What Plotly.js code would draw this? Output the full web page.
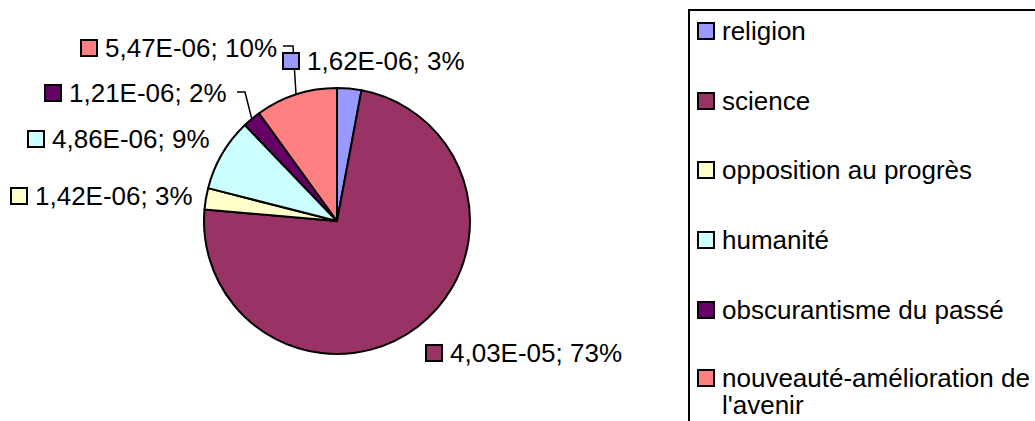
<!DOCTYPE html>
<html>
<head>
<meta charset="utf-8">
<script src="https://cdn.plot.ly/plotly-3.0.1.min.js"></script>
<style>html,body{margin:0;padding:0;background:#fff;}#chart{width:1035px;height:421px;}</style>
</head>
<body>
<div id="chart"></div>
<script>
// ---- data ----
const labels = ["religion", "science", "opposition au progrès", "humanité", "obscurantisme du passé", "nouveauté-amélioration de l'avenir"];
const values = [1.62e-6, 4.03e-5, 1.42e-6, 4.86e-6, 1.21e-6, 5.47e-6];
const colors = ["#9999FF", "#993366", "#FFFFCC", "#CCFFFF", "#660066", "#FF8080"];

// ---- layout helpers (pixel positions) ----
const W = 1035, H = 421;
const px = x => x / W;
const py = y => 1 - y / H;
const FONT = "Liberation Sans, Arial, sans-serif";
const FS = 26;

// pie geometry
const CX = 337, CY = 221, R = 133;

// data label anchors: [square left x, center y]
const labelPos = [[283, 61], [426, 353], [11, 196], [28, 139], [45, 93], [81, 48]];
// leader line start points (label side) for the small slices that use them
const leaders = {
  4: [[237, 92], [245, 92]],
  5: [[283, 46], [293, 46]]
};

const total = values.reduce((a, b) => a + b, 0);
function fmtVal(v) {
  const s = v.toExponential(2); // e.g. 1.62e-6
  const [m, e] = s.split("e");
  const ev = parseInt(e, 10);
  const sign = ev < 0 ? "-" : "+";
  const ea = String(Math.abs(ev)).padStart(2, "0");
  return m.replace(".", ",") + "E" + sign + ea;
}
function pct(v) { return Math.round(v / total * 100) + "%"; }

const shapes = [];
const annotations = [];

// leader lines to slice mid-points on the edge
let cum = 0;
const mids = values.map(v => { const m = cum + v / 2; cum += v; return m / total; });
Object.keys(leaders).forEach(k => {
  const i = +k;
  const a = mids[i] * 2 * Math.PI;
  const ex = CX + Math.sin(a) * R, ey = CY - Math.cos(a) * R;
  const pts = leaders[k].concat([[ex, ey]]);
  const path = pts.map((p, j) => (j ? "L" : "M") + px(p[0]) + "," + py(p[1])).join(" ");
  shapes.push({type: "path", xref: "paper", yref: "paper", path: path,
    line: {color: "#000", width: 1.5}, layer: "above"});
});

// data labels
labels.forEach((l, i) => {
  const [sx, cy] = labelPos[i];
  shapes.push({type: "rect", xref: "paper", yref: "paper",
    x0: px(sx), x1: px(sx + 16), y0: py(cy - 8), y1: py(cy + 8),
    fillcolor: colors[i], line: {color: "#000", width: 2}, layer: "above"});
  annotations.push({xref: "paper", yref: "paper", x: px(sx + 23), y: py(cy),
    xanchor: "left", yanchor: "middle", showarrow: false, borderpad: 0,
    text: fmtVal(values[i]) + "; " + pct(values[i]),
    font: {family: FONT, size: FS, color: "#000"}});
});

// legend box
shapes.push({type: "rect", xref: "paper", yref: "paper",
  x0: px(689), x1: px(1045), y0: py(10), y1: py(440),
  fillcolor: "rgba(0,0,0,0)", line: {color: "#000", width: 2}, layer: "above"});
const legendY = [31, 101, 170, 240, 310, 378];
const legendLines = l => l.replace(" l'avenir", "\n l'avenir").split("\n").map(s => s.trim());
labels.forEach((l, i) => {
  const cy = legendY[i];
  shapes.push({type: "rect", xref: "paper", yref: "paper",
    x0: px(698), x1: px(714), y0: py(cy - 8), y1: py(cy + 8),
    fillcolor: colors[i], line: {color: "#000", width: 2}, layer: "above"});
  legendLines(l).forEach((t, j) => {
    annotations.push({xref: "paper", yref: "paper", x: px(721), y: py(cy + j * 27),
      xanchor: "left", yanchor: "middle", showarrow: false, borderpad: 0,
      text: t, font: {family: FONT, size: FS, color: "#000"}});
  });
});

const trace = {
  type: "pie",
  labels: labels,
  values: values,
  sort: false,
  direction: "clockwise",
  rotation: 0,
  textinfo: "none",
  hoverinfo: "label+value+percent",
  marker: {colors: colors, line: {color: "#000", width: 2}},
  domain: {x: [px(CX - R), px(CX + R)], y: [py(CY + R), py(CY - R)]},
  showlegend: false
};

const layout = {
  width: W, height: H,
  margin: {l: 0, r: 0, t: 0, b: 0},
  paper_bgcolor: "#fff",
  showlegend: false,
  shapes: shapes,
  annotations: annotations,
  font: {family: FONT}
};

Plotly.newPlot("chart", [trace], layout, {displayModeBar: false, staticPlot: true});
</script>
</body>
</html>
